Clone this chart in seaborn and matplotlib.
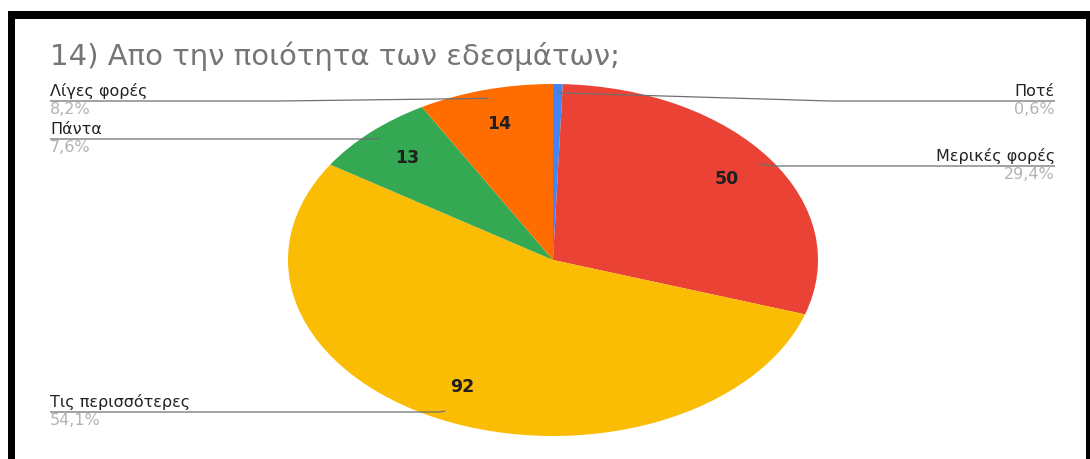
import matplotlib
matplotlib.use("Agg")
import matplotlib.pyplot as plt
from matplotlib.patches import Rectangle
import numpy as np
import seaborn as sns

# Survey answers, clockwise from the top of the pie
categories = ["Ποτέ", "Μερικές φορές", "Τις περισσότερες", "Πάντα", "Λίγες φορές"]
counts = [1, 50, 92, 13, 14]
pct_labels = ["0,6%", "29,4%", "54,1%", "7,6%", "8,2%"]
title = "14) Απο την ποιότητα των εδεσμάτων;"

colors = sns.color_palette(["#4285F4", "#EA4335", "#FBBC04", "#34A853", "#FF6D01"])

sns.set_theme(style="white")
plt.rcParams["font.family"] = ["DejaVu Sans"]

W, H = 1090, 459
fig = plt.figure(figsize=(W / 100, H / 100), dpi=100)
fig.patch.set_facecolor("white")

# pie axes (stretched horizontally)
cx, cy, rx, ry = 553, 260, 265, 176
ax = fig.add_axes([(cx - rx) / W, (H - cy - ry) / H, 2 * rx / W, 2 * ry / H])
total = sum(counts)


def fmt(p):
    n = int(round(p * total / 100.0))
    return f"{n}" if n >= 5 else ""


wedges, _, autotexts = ax.pie(
    counts,
    colors=colors,
    startangle=90,
    counterclock=False,
    autopct=fmt,
    pctdistance=0.8,
    wedgeprops=dict(linewidth=0),
    textprops=dict(fontsize=12.5, fontweight="bold", color="#1f1f1f"),
)
ax.set_aspect("auto")
ax.set_xlim(-1, 1)
ax.set_ylim(-1, 1)
ax.axis("off")

# overlay axes in pixel units for title, labels, leaders and frame
ov = fig.add_axes([0, 0, 1, 1], zorder=5)
ov.set_xlim(0, W)
ov.set_ylim(H, 0)
ov.axis("off")
ov.patch.set_alpha(0)

ov.text(50, 56, title, fontsize=21, color="#757575", va="center", ha="left")

# label placement: (side, underline y, elbow x)
placement = {
    "Ποτέ": ("right", 101, 830),
    "Μερικές φορές": ("right", 166, 775),
    "Τις περισσότερες": ("left", 412, 440),
    "Πάντα": ("left", 139, 370),
    "Λίγες φορές": ("left", 101, 280),
}

to_pix = ax.transData + ov.transData.inverted()
for w, name, pct in zip(wedges, categories, pct_labels):
    mid = np.deg2rad((w.theta1 + w.theta2) / 2)
    anchor = to_pix.transform((0.95 * np.cos(mid), 0.95 * np.sin(mid)))
    side, ly, ex = placement[name]
    if side == "left":
        xe = 50
        ha = "left"
    else:
        xe = 1055
        ha = "right"
    ov.plot([anchor[0], ex, xe], [anchor[1], ly, ly], color="#6f6f6f", lw=0.9,
            solid_capstyle="butt")
    ov.text(xe, ly - 2, name, fontsize=11.5, color="#222222", ha=ha, va="bottom")
    ov.text(xe, ly + 1, pct, fontsize=11.5, color="#b3b3b3", ha=ha, va="top")

# black frame on top, left and right
for x0, y0, w_, h_ in [(8, 11, W - 8, 8), (8, 11, 7, H - 11), (1086, 11, 4, H - 11)]:
    ov.add_patch(Rectangle((x0, y0), w_, h_, color="black", lw=0))

fig.savefig("out.png", dpi=100, facecolor="white")
